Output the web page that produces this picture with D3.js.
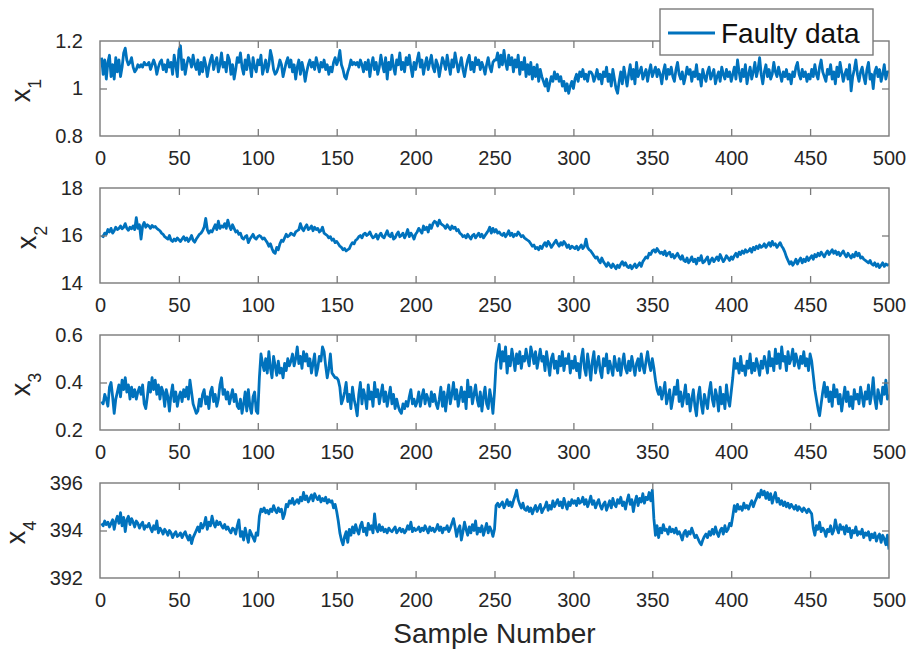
<!DOCTYPE html>
<html>
<head>
<meta charset="utf-8">
<script src="https://cdn.jsdelivr.net/npm/d3@7/dist/d3.min.js"></script>
<style>
  html, body { margin: 0; padding: 0; background: #ffffff; }
  svg { display: block; font-family: "Liberation Sans", Arial, Helvetica, sans-serif; }
</style>
</head>
<body>
<svg id="chart" width="913" height="656"></svg>
<script>
// Sample axis ticks shared by every panel
const sampleTicks = [0, 50, 100, 150, 200, 250, 300, 350, 400, 450, 500];

// Variable names (drawn as x with subscript) and their y ticks
const varSubscripts = ["1", "2", "3", "4"];
const x1Ticks = [0.8, 1, 1.2];
const x2Ticks = [14, 16, 18];
const x3Ticks = [0.2, 0.4, 0.6];
const x4Ticks = [392, 394, 396];

const legendLabel = "Faulty data";
const xAxisTitle = "Sample Number";

// Measured process variables, samples 1..500
const x1Values = [
1.13,1.06,1.12,1.04,1.11,1.14,1.05,1.10,1.04,1.13,
1.07,1.12,1.05,1.09,1.15,1.17,1.12,1.10,1.11,1.13,
1.09,1.07,1.08,1.10,1.09,1.10,1.09,1.11,1.10,1.10,
1.11,1.08,1.10,1.12,1.10,1.06,1.09,1.11,1.12,1.08,
1.10,1.07,1.12,1.09,1.11,1.06,1.14,1.10,1.05,1.16,
1.18,1.08,1.12,1.06,1.10,1.13,1.12,1.09,1.14,1.10,
1.08,1.12,1.06,1.11,1.07,1.13,1.10,1.05,1.09,1.12,
1.14,1.08,1.11,1.13,1.07,1.10,1.15,1.09,1.11,1.07,
1.14,1.12,1.06,1.10,1.04,1.08,1.13,1.11,1.15,1.09,
1.06,1.12,1.08,1.14,1.10,1.05,1.13,1.09,1.07,1.12,
1.10,1.14,1.06,1.09,1.12,1.07,1.10,1.16,1.13,1.08,
1.06,1.07,1.09,1.12,1.10,1.05,1.08,1.11,1.13,1.09,
1.12,1.07,1.10,1.04,1.09,1.12,1.06,1.11,1.08,1.03,
1.07,1.10,1.12,1.09,1.11,1.08,1.13,1.10,1.07,1.11,
1.09,1.12,1.08,1.10,1.06,1.09,1.07,1.11,1.13,1.10,
1.12,1.16,1.10,1.08,1.05,1.04,1.07,1.09,1.12,1.10,
1.11,1.10,1.11,1.09,1.12,1.10,1.07,1.11,1.08,1.12,
1.05,1.10,1.13,1.08,1.11,1.06,1.09,1.14,1.10,1.07,
1.13,1.04,1.11,1.08,1.14,1.09,1.06,1.12,1.10,1.15,
1.08,1.11,1.07,1.13,1.10,1.14,1.09,1.05,1.11,1.08,
1.12,1.15,1.09,1.12,1.06,1.10,1.13,1.08,1.11,1.14,
1.09,1.07,1.12,1.10,1.05,1.09,1.13,1.11,1.08,1.14,
1.10,1.06,1.12,1.09,1.15,1.11,1.07,1.10,1.13,1.08,
1.05,1.09,1.12,1.14,1.08,1.11,1.07,1.13,1.10,1.12,
1.08,1.11,1.09,1.06,1.10,1.13,1.09,1.07,1.11,1.12,
1.12,1.15,1.09,1.14,1.10,1.16,1.11,1.08,1.14,1.10,
1.13,1.07,1.12,1.09,1.14,1.06,1.11,1.08,1.13,1.05,
1.10,1.06,1.11,1.04,1.09,1.05,1.10,1.03,1.08,1.05,
1.03,1.01,1.04,0.99,1.02,1.05,1.03,1.07,1.04,1.06,
1.03,1.05,1.01,1.03,0.99,1.02,0.98,1.01,1.03,1.00,
1.04,1.06,1.03,1.07,1.05,1.08,1.04,1.06,1.03,1.07,
1.07,1.06,1.03,1.05,1.08,1.04,1.06,1.02,1.07,1.05,
1.09,1.03,1.06,1.01,1.08,1.04,1.00,0.98,1.03,1.07,
1.02,1.09,1.05,1.01,1.06,1.10,1.04,1.08,1.02,1.11,
1.05,1.07,1.09,1.04,1.06,1.08,1.03,1.07,1.10,1.05,
1.07,1.09,1.05,1.08,1.06,1.02,1.07,1.10,1.04,1.08,
1.06,1.09,1.05,1.03,1.08,1.11,1.06,1.04,1.07,1.02,
1.05,1.09,1.06,1.08,1.03,1.07,1.05,1.10,1.04,1.06,
1.01,1.08,1.05,1.03,1.07,1.09,1.04,1.06,1.08,1.02,
1.05,1.07,1.03,1.09,1.06,1.04,1.08,1.05,1.07,1.03,
1.06,1.09,1.04,1.12,1.07,1.03,1.08,1.05,1.10,1.02,
1.06,1.09,1.04,1.07,1.11,1.05,1.08,1.13,1.06,1.02,
1.07,1.10,1.05,1.08,1.04,1.06,1.11,1.07,1.05,1.09,
1.06,1.03,1.07,1.05,1.08,1.04,1.06,1.02,1.07,1.05,
1.09,1.11,1.06,1.04,1.08,1.05,1.07,1.03,1.06,1.04,
1.08,1.05,1.10,1.06,1.04,1.09,1.12,1.07,1.05,1.03,
1.08,1.06,1.10,1.04,1.07,1.02,1.09,1.05,1.11,1.07,
1.03,1.06,1.08,1.04,1.10,0.99,1.05,1.08,1.12,1.06,
1.03,1.07,1.09,1.05,1.02,1.08,1.11,1.04,1.06,1.00,
1.07,1.09,1.05,1.08,1.03,1.06,1.10,1.04,1.07,1.07
];

const x2Values = [
16.00,15.95,16.10,16.05,16.25,16.15,16.30,16.10,16.20,16.35,
16.25,16.30,16.40,16.28,16.35,16.50,16.30,16.22,16.35,16.28,
16.40,16.25,16.75,16.30,16.45,15.85,16.40,16.55,16.35,16.45,
16.40,16.30,16.42,16.35,16.38,16.30,16.25,16.20,16.10,16.05,
15.95,15.90,15.85,16.00,15.80,15.75,15.85,15.78,15.90,15.82,
15.75,15.85,15.95,15.80,15.90,15.75,15.85,16.00,15.80,15.72,
15.85,15.95,16.05,16.10,16.20,16.35,16.72,16.25,16.10,16.20,
16.15,16.30,16.45,16.25,16.60,16.30,16.40,16.35,16.50,16.30,
16.65,16.40,16.25,16.45,16.30,16.15,16.20,16.05,16.10,15.90,
15.85,15.95,16.00,15.70,15.85,15.95,16.05,15.90,15.85,15.95,
16.00,15.95,15.85,15.90,15.80,15.70,15.55,15.65,15.45,15.30,
15.25,15.50,15.40,15.65,15.80,15.75,15.90,16.05,15.95,16.00,
16.10,16.05,16.00,16.15,16.20,16.25,16.50,16.30,16.20,16.35,
16.45,16.25,16.30,16.40,16.20,16.35,16.25,16.30,16.15,16.20,
16.35,16.10,16.05,16.00,15.90,15.95,15.80,15.85,15.70,15.75,
15.65,15.55,15.50,15.40,15.45,15.35,15.40,15.45,15.60,15.70,
15.65,15.80,15.85,15.95,16.00,15.90,16.05,16.10,16.00,16.05,
16.15,16.00,15.90,15.95,16.05,15.85,16.00,16.10,15.95,15.90,
16.05,16.20,16.00,15.95,16.10,15.85,15.90,16.05,16.15,15.95,
16.00,16.10,15.90,16.05,16.25,15.95,16.10,16.00,15.85,16.05,
16.15,16.30,16.20,16.10,16.40,16.25,16.35,16.15,16.45,16.30,
16.50,16.60,16.55,16.40,16.65,16.50,16.45,16.40,16.30,16.45,
16.35,16.25,16.40,16.30,16.35,16.20,16.25,16.10,16.05,15.95,
16.00,15.90,16.05,15.95,15.85,16.00,16.05,15.90,16.00,16.10,
15.95,16.05,15.90,16.00,16.10,16.20,16.35,16.10,16.30,16.15,
16.25,16.10,16.15,16.05,16.00,16.10,15.95,16.05,16.20,16.00,
16.10,15.95,16.05,16.00,16.15,16.05,15.95,16.00,15.90,15.85,
15.80,15.75,15.65,15.55,15.60,15.45,15.50,15.40,15.55,15.45,
15.60,15.70,15.55,15.75,15.65,15.50,15.60,15.70,15.80,15.65,
15.55,15.70,15.60,15.75,15.65,15.50,15.60,15.45,15.55,15.50,
15.45,15.55,15.40,15.50,15.60,15.45,15.55,15.85,15.50,15.40,
15.35,15.25,15.15,15.05,15.10,14.95,14.85,15.05,14.90,14.80,
14.70,14.85,14.75,14.65,14.80,14.70,14.60,14.75,14.65,14.80,
14.90,14.75,14.85,14.70,14.65,14.75,14.60,14.70,14.80,14.65,
14.75,14.85,14.70,14.90,15.00,15.10,15.05,15.25,15.20,15.35,
15.40,15.30,15.45,15.35,15.25,15.30,15.20,15.35,15.15,15.25,
15.30,15.10,15.20,15.05,15.15,15.25,15.10,15.00,15.15,14.95,
14.90,15.05,14.85,14.95,15.10,14.90,15.00,14.80,15.05,14.95,
15.15,14.85,14.90,15.00,15.10,14.80,14.95,15.05,14.90,15.00,
15.10,14.95,15.20,15.05,14.90,15.00,15.15,15.05,14.95,15.10,
15.00,15.15,15.25,15.10,15.30,15.20,15.35,15.25,15.40,15.30,
15.35,15.45,15.30,15.50,15.40,15.55,15.45,15.60,15.50,15.55,
15.65,15.50,15.60,15.70,15.55,15.75,15.60,15.65,15.50,15.60,
15.70,15.55,15.45,15.30,15.10,14.95,14.80,14.90,14.75,14.85,
15.00,14.80,14.95,15.05,14.85,15.00,14.90,15.10,14.95,15.05,
15.15,15.00,15.20,15.10,15.25,15.15,15.30,15.20,15.10,15.25,
15.35,15.20,15.30,15.40,15.25,15.35,15.20,15.30,15.15,15.25,
15.35,15.20,15.10,15.25,15.15,15.05,15.20,15.10,15.30,15.15,
15.25,15.05,15.10,15.00,14.95,14.90,14.85,14.95,14.80,14.75,
14.85,14.70,14.80,14.65,14.75,14.85,14.70,14.80,14.75,14.80
];

const x3Values = [
0.32,0.31,0.35,0.33,0.30,0.38,0.40,0.34,0.27,0.33,
0.36,0.39,0.34,0.41,0.37,0.42,0.36,0.39,0.33,0.38,
0.34,0.37,0.33,0.36,0.38,0.35,0.39,0.31,0.29,0.34,
0.40,0.36,0.42,0.37,0.41,0.35,0.39,0.33,0.38,0.36,
0.30,0.37,0.34,0.28,0.35,0.39,0.32,0.36,0.30,0.34,
0.36,0.32,0.37,0.34,0.38,0.33,0.41,0.36,0.31,0.29,
0.27,0.28,0.33,0.30,0.35,0.37,0.31,0.34,0.29,0.36,
0.38,0.32,0.35,0.30,0.33,0.39,0.42,0.35,0.37,0.33,
0.36,0.31,0.34,0.37,0.32,0.35,0.30,0.29,0.33,0.27,
0.31,0.36,0.28,0.37,0.30,0.27,0.34,0.36,0.28,0.27,
0.42,0.52,0.48,0.45,0.50,0.44,0.53,0.46,0.42,0.51,
0.47,0.43,0.49,0.44,0.46,0.42,0.48,0.45,0.50,0.47,
0.49,0.52,0.47,0.50,0.55,0.48,0.51,0.46,0.53,0.49,
0.52,0.47,0.50,0.44,0.48,0.52,0.43,0.46,0.51,0.49,
0.55,0.53,0.47,0.42,0.46,0.52,0.44,0.43,0.42,0.42,
0.41,0.38,0.31,0.33,0.36,0.40,0.32,0.35,0.29,0.38,
0.33,0.30,0.26,0.35,0.40,0.31,0.37,0.34,0.29,0.39,
0.33,0.36,0.30,0.40,0.34,0.37,0.31,0.35,0.39,0.32,
0.36,0.30,0.34,0.38,0.31,0.35,0.29,0.33,0.30,0.28,
0.27,0.31,0.29,0.32,0.30,0.34,0.37,0.31,0.33,0.30,
0.32,0.36,0.30,0.34,0.37,0.31,0.35,0.33,0.30,0.36,
0.32,0.35,0.31,0.29,0.33,0.38,0.30,0.36,0.28,0.34,
0.39,0.31,0.35,0.40,0.33,0.37,0.30,0.34,0.38,0.32,
0.36,0.29,0.41,0.34,0.38,0.31,0.35,0.39,0.33,0.30,
0.36,0.28,0.34,0.38,0.31,0.29,0.37,0.33,0.27,0.36,
0.48,0.52,0.56,0.46,0.53,0.49,0.55,0.44,0.51,0.47,
0.54,0.50,0.45,0.52,0.48,0.53,0.46,0.51,0.49,0.54,
0.50,0.47,0.55,0.52,0.48,0.53,0.46,0.50,0.54,0.49,
0.51,0.45,0.53,0.48,0.43,0.50,0.52,0.46,0.49,0.44,
0.51,0.47,0.53,0.45,0.50,0.48,0.52,0.44,0.49,0.46,
0.51,0.45,0.48,0.42,0.50,0.54,0.46,0.43,0.52,0.47,
0.41,0.49,0.53,0.44,0.48,0.51,0.45,0.42,0.50,0.47,
0.52,0.44,0.49,0.46,0.43,0.51,0.47,0.45,0.50,0.43,
0.48,0.52,0.46,0.44,0.49,0.45,0.51,0.47,0.43,0.48,
0.50,0.45,0.52,0.47,0.44,0.49,0.53,0.48,0.45,0.50,
0.46,0.41,0.37,0.35,0.38,0.33,0.36,0.40,0.31,0.34,
0.37,0.29,0.33,0.38,0.35,0.41,0.32,0.36,0.30,0.34,
0.39,0.31,0.35,0.28,0.33,0.37,0.30,0.26,0.34,0.38,
0.31,0.27,0.35,0.32,0.29,0.36,0.40,0.33,0.30,0.37,
0.34,0.28,0.38,0.31,0.35,0.29,0.39,0.33,0.30,0.36,
0.42,0.50,0.46,0.48,0.44,0.51,0.45,0.47,0.43,0.49,
0.46,0.52,0.44,0.48,0.45,0.50,0.47,0.43,0.49,0.46,
0.51,0.48,0.44,0.53,0.47,0.50,0.45,0.54,0.48,0.52,
0.46,0.55,0.49,0.51,0.45,0.53,0.48,0.50,0.54,0.47,
0.52,0.49,0.46,0.51,0.48,0.53,0.47,0.50,0.45,0.52,
0.49,0.43,0.37,0.33,0.29,0.26,0.31,0.36,0.40,0.34,
0.38,0.32,0.36,0.30,0.39,0.34,0.37,0.31,0.35,0.28,
0.33,0.38,0.32,0.36,0.30,0.34,0.29,0.37,0.33,0.35,
0.31,0.38,0.34,0.30,0.36,0.33,0.39,0.31,0.35,0.42,
0.33,0.29,0.37,0.34,0.31,0.38,0.35,0.41,0.33,0.35
];

const x4Values = [
394.30,394.20,394.40,394.25,394.35,394.15,394.30,394.45,394.05,394.40,
394.60,394.30,394.75,394.20,394.55,393.95,394.45,394.60,394.25,394.50,
394.35,394.15,394.40,394.30,394.10,394.25,394.35,394.05,394.20,394.15,
394.30,394.10,393.95,394.20,394.05,394.40,393.90,394.10,394.00,393.85,
394.05,393.95,393.80,394.00,393.90,393.70,393.85,393.95,393.75,393.80,
393.90,393.70,393.85,393.95,393.75,393.60,393.80,393.45,393.70,393.85,
394.00,394.15,393.95,394.30,394.10,394.25,394.55,394.05,394.35,394.20,
394.60,394.30,394.15,394.40,394.25,394.35,394.20,394.10,394.25,394.05,
394.15,394.00,393.90,394.10,394.05,393.85,394.20,394.45,393.75,393.95,
393.60,394.10,393.80,393.50,394.00,393.85,393.70,393.55,393.90,393.80,
394.60,394.90,394.80,394.95,394.75,394.85,394.70,394.90,394.80,395.05,
394.85,394.75,394.95,394.80,394.90,394.50,394.70,395.10,395.00,395.25,
395.15,395.35,395.10,395.20,395.30,395.15,395.40,395.25,395.60,395.30,
395.45,395.20,395.35,395.50,395.25,395.55,395.40,395.30,395.45,395.20,
395.35,395.25,395.40,395.15,395.30,395.20,395.25,394.95,395.10,394.80,
394.40,393.90,393.60,393.40,393.75,393.95,393.50,394.05,393.80,394.15,
393.90,394.25,394.00,393.85,394.20,394.35,393.95,394.10,393.80,394.30,
394.05,394.20,393.90,394.70,394.10,393.95,394.25,394.00,394.15,393.95,
394.05,393.90,394.10,394.00,393.95,394.05,394.15,393.90,394.00,394.10,
393.95,394.05,393.90,394.00,394.20,394.05,394.35,393.95,394.10,394.00,
394.05,394.15,393.95,394.10,394.00,394.20,394.05,393.90,394.15,394.00,
394.10,393.95,394.05,394.25,394.00,394.15,393.90,394.10,394.05,394.20,
393.95,394.10,394.30,394.50,394.15,393.75,394.05,394.20,393.60,393.95,
394.35,394.05,393.80,394.15,393.90,394.25,394.00,394.40,393.85,394.10,
393.95,394.20,393.80,394.05,394.30,393.90,394.15,394.00,393.75,394.05,
395.05,395.15,395.00,395.10,395.20,394.95,395.10,395.30,395.05,395.20,
395.00,395.25,395.45,395.70,395.30,395.10,394.95,395.15,394.90,394.85,
395.00,394.80,394.95,394.70,394.90,395.05,394.80,394.95,395.10,394.75,
394.90,395.00,395.20,394.85,395.05,394.90,395.25,395.00,395.15,395.30,
395.05,395.20,394.95,395.35,395.10,394.90,395.20,395.05,395.30,395.15,
395.25,395.05,395.35,395.15,395.20,395.40,395.10,395.30,395.00,395.20,
395.45,395.10,395.25,394.95,395.15,395.30,395.05,394.90,395.10,395.20,
394.85,395.05,395.25,394.95,395.35,395.10,395.00,395.30,395.15,395.40,
395.05,395.20,394.90,395.25,395.50,395.10,395.30,394.80,395.20,395.45,
395.05,395.35,395.20,395.55,395.15,395.40,395.30,395.60,395.25,395.70,
394.50,393.80,394.20,393.70,394.10,393.90,394.25,394.00,394.05,393.85,
394.15,393.95,394.05,393.90,394.10,393.85,393.95,393.80,393.60,393.90,
394.00,393.75,393.95,393.85,394.10,393.90,393.70,393.80,393.65,393.50,
393.40,393.60,393.75,393.85,393.70,393.95,393.80,394.05,393.85,394.15,
393.90,393.75,394.00,394.10,393.85,394.20,393.95,394.05,394.30,394.20,
394.60,395.05,394.80,395.10,394.90,395.00,394.85,395.15,394.95,395.05,
394.90,395.10,395.25,395.00,395.20,395.35,395.55,395.40,395.70,395.50,
395.65,395.35,395.60,395.30,395.55,395.15,395.40,395.60,395.20,395.35,
395.10,395.25,395.05,395.20,395.00,395.15,394.95,395.10,395.00,394.90,
395.05,394.85,395.00,394.90,394.80,394.95,394.85,394.75,394.90,394.80,
394.70,394.10,393.80,394.20,394.05,394.35,393.95,394.10,394.00,393.75,
394.05,393.95,394.20,393.85,394.00,394.45,394.10,393.90,394.25,394.05,
394.15,393.85,394.20,393.95,394.10,393.70,394.00,393.90,394.15,393.80,
393.95,393.85,394.05,393.70,393.90,393.80,393.95,393.60,393.85,393.70,
393.90,393.55,393.75,393.85,393.50,393.80,393.65,393.40,393.80,393.20
];

const panelSeries = [x1Values, x2Values, x3Values, x4Values];
const panelTicks = [x1Ticks, x2Ticks, x3Ticks, x4Ticks];

// ---- layout & style ----
const svg = d3.select("#chart");
const plotLeft = 100, plotRight = 889;
const panelTops = [41, 188, 335, 483];
const panelHeight = 95;
const lineColor = "#0072BD";
const boxColor = "#7a7a7a";
const textColor = "#262626";
const tickLen = 7;

const x = d3.scaleLinear().domain([0, 500]).range([plotLeft, plotRight]);

panelSeries.forEach((values, p) => {
  const ticks = panelTicks[p];
  const top = panelTops[p];
  const y = d3.scaleLinear()
    .domain([ticks[0], ticks[ticks.length - 1]])
    .range([top + panelHeight, top]);

  const g = svg.append("g").attr("class", "panel");

  g.append("clipPath").attr("id", "clip" + p)
    .append("rect")
    .attr("x", plotLeft).attr("y", top)
    .attr("width", plotRight - plotLeft).attr("height", panelHeight);

  // data trace
  const line = d3.line()
    .x((d, i) => x(i + 1))
    .y(d => y(d));
  g.append("path")
    .datum(values)
    .attr("clip-path", "url(#clip" + p + ")")
    .attr("fill", "none")
    .attr("stroke", lineColor)
    .attr("stroke-width", 2.8)
    .attr("stroke-linejoin", "round")
    .attr("d", line);

  // bottom axis (ticks pointing inward, labels below)
  const bottom = g.append("g")
    .attr("transform", `translate(0,${top + panelHeight})`)
    .call(d3.axisBottom(x).tickValues(sampleTicks).tickSize(-tickLen).tickPadding(tickLen + 8).tickFormat(d3.format("d")));
  // top axis (ticks only)
  const topAx = g.append("g")
    .attr("transform", `translate(0,${top})`)
    .call(d3.axisTop(x).tickValues(sampleTicks).tickSize(-tickLen).tickFormat(""));
  // left axis
  const left = g.append("g")
    .attr("transform", `translate(${plotLeft},0)`)
    .call(d3.axisLeft(y).tickValues(ticks).tickSize(-tickLen).tickPadding(tickLen + 10).tickFormat(d => String(d)));
  // right axis (ticks only)
  const right = g.append("g")
    .attr("transform", `translate(${plotRight},0)`)
    .call(d3.axisRight(y).tickValues(ticks).tickSize(-tickLen).tickFormat(""));

  [bottom, topAx, left, right].forEach(a => {
    a.select(".domain").remove();
    a.selectAll(".tick line").attr("stroke", boxColor).attr("stroke-width", 1.3);
    a.selectAll(".tick text")
      .attr("fill", textColor)
      .style("font-size", "20px")
      .style("font-family", "'Liberation Sans', Arial, sans-serif");
  });
  // hide end ticks that coincide with the box edges
  [bottom, topAx].forEach(a => a.selectAll(".tick").filter(d => d === 0 || d === 500).select("line").remove());
  [left, right].forEach(a => a.selectAll(".tick").filter((d, i) => i === 0 || i === ticks.length - 1).select("line").remove());

  // box
  g.append("rect")
    .attr("x", plotLeft).attr("y", top)
    .attr("width", plotRight - plotLeft).attr("height", panelHeight)
    .attr("fill", "none").attr("stroke", boxColor).attr("stroke-width", 1.4);

  // y label: x with subscript, placed beside the widest tick label
  let minLeft = plotLeft;
  left.selectAll(".tick text").each(function () {
    const b = this.getBBox();
    const m = this.getCTM();
    minLeft = Math.min(minLeft, m.e + b.x);
  });
  const labelX = minLeft - 25;
  const label = g.append("text")
    .attr("transform", `translate(${labelX},${top + panelHeight / 2 + 2}) rotate(-90)`)
    .attr("text-anchor", "middle")
    .attr("fill", textColor);
  label.append("tspan").text("x").style("font-size", "27px");
  label.append("tspan").text(varSubscripts[p]).attr("dy", 11).style("font-size", "18px");
});

// shared x-axis title
svg.append("text")
  .attr("x", (plotLeft + plotRight) / 2)
  .attr("y", 643)
  .attr("text-anchor", "middle")
  .attr("fill", textColor)
  .style("font-size", "28px")
  .text(xAxisTitle);

// legend
const legend = svg.append("g");
legend.append("rect")
  .attr("x", 660).attr("y", 9).attr("width", 213).attr("height", 46)
  .attr("fill", "#ffffff").attr("stroke", boxColor).attr("stroke-width", 1.4);
legend.append("line")
  .attr("x1", 668).attr("x2", 715).attr("y1", 33).attr("y2", 33)
  .attr("stroke", lineColor).attr("stroke-width", 2.8);
legend.append("text")
  .attr("x", 721).attr("y", 43)
  .attr("fill", "#111111")
  .style("font-size", "28px")
  .text(legendLabel);
</script>
</body>
</html>
